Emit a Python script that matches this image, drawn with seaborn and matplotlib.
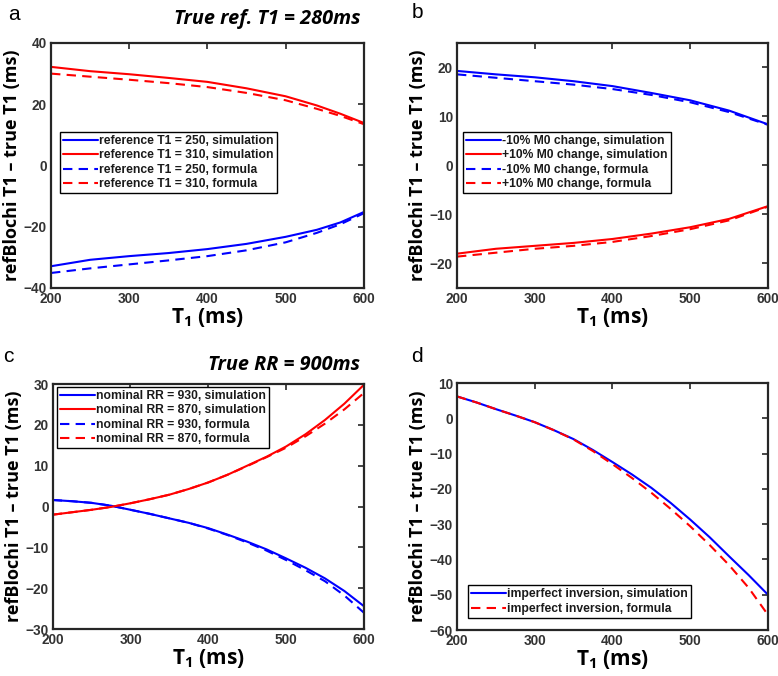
import matplotlib
matplotlib.use("Agg")
import matplotlib.pyplot as plt
import seaborn as sns
import pandas as pd

sns.set_theme(style="white")
plt.rcParams['font.family'] = ['Liberation Sans', 'DejaVu Sans']
plt.rcParams['mathtext.fontset'] = 'custom'
plt.rcParams['mathtext.rm'] = 'Open Sans:bold'
plt.rcParams['mathtext.bf'] = 'Open Sans:bold'
plt.rcParams['mathtext.it'] = 'Open Sans:bold'

# ---------------- data ----------------
t1_a = [200, 250, 300, 350, 400, 450, 500, 540, 570, 600]
a_ref250_sim = [-32.9, -30.8, -29.6, -28.6, -27.3, -25.6, -23.3, -21.0, -18.6, -15.2]
a_ref310_sim = [32.2, 30.8, 29.8, 28.6, 27.3, 25.2, 22.6, 19.6, 16.9, 13.9]
a_ref250_form = [-35.1, -33.6, -32.3, -31.0, -29.6, -27.7, -25.1, -22.0, -19.2, -15.6]
a_ref310_form = [30.0, 29.0, 28.0, 26.9, 25.6, 23.7, 21.3, 18.5, 16.2, 13.5]

t1_b = [200, 250, 300, 350, 400, 450, 500, 550, 600]
b_m10_sim = [19.3, 18.6, 18.0, 17.2, 16.2, 14.8, 13.3, 11.2, 8.4]
b_p10_sim = [-18.0, -17.0, -16.4, -15.8, -15.0, -13.9, -12.6, -10.9, -8.3]
b_m10_form = [18.6, 17.9, 17.2, 16.5, 15.6, 14.4, 12.9, 10.9, 8.3]
b_p10_form = [-18.6, -17.8, -17.0, -16.4, -15.6, -14.4, -13.0, -11.2, -8.4]

t1_c = [200, 225, 250, 275, 300, 325, 350, 375, 400, 425, 450, 475, 500,
        525, 550, 575, 600]
c_rr930_sim = [1.6, 1.3, 0.9, 0.2, -0.8, -1.8, -2.9, -4.0, -5.3, -6.9, -8.6,
               -10.5, -12.7, -15.0, -17.6, -20.7, -24.4]
c_rr870_sim = [-2.0, -1.4, -0.8, -0.1, 0.8, 1.8, 2.9, 4.3, 5.9, 7.8, 10.0,
               12.2, 14.7, 17.7, 21.2, 25.2, 29.8]
c_rr930_form = [1.6, 1.3, 0.9, 0.2, -0.8, -1.8, -2.9, -4.0, -5.4, -7.0, -8.8,
                -10.8, -13.1, -15.6, -18.3, -21.8, -26.0]
c_rr870_form = [-2.0, -1.4, -0.8, -0.1, 0.8, 1.8, 2.9, 4.3, 5.9, 7.8, 9.9,
                12.1, 14.4, 17.2, 20.3, 23.8, 27.8]

t1_d = [200, 225, 250, 275, 300, 325, 350, 375, 400, 425, 450, 475, 500,
        525, 550, 575, 600]
d_sim = [6.2, 4.5, 2.6, 0.8, -1.1, -3.4, -5.9, -9.0, -12.4, -15.9, -19.7,
         -24.0, -28.7, -33.7, -39.1, -44.4, -50.0]
d_form = [6.2, 4.5, 2.6, 0.8, -1.1, -3.4, -6.0, -9.3, -13.0, -16.9, -21.1,
          -25.7, -30.6, -35.9, -41.6, -48.0, -55.7]

x_ticks = [200, 300, 400, 500, 600]

BLUE = "#0000FF"
RED = "#FF0000"
GRAY = "#262626"

fig = plt.figure(figsize=(7.78, 6.76), dpi=100)

ax_a = fig.add_axes([0.0656, 0.574, 0.402, 0.3624])
ax_b = fig.add_axes([0.5874, 0.574, 0.3997, 0.3624])
ax_c = fig.add_axes([0.0677, 0.0695, 0.400, 0.3624])
ax_d = fig.add_axes([0.5874, 0.068, 0.3997, 0.3654])


def draw(ax, x, series):
    for label, y, color, ls in series:
        df = pd.DataFrame({"T1": x, "val": y})
        sns.lineplot(data=df, x="T1", y="val", ax=ax, color=color,
                     linewidth=1.5, label=label)
        ln = ax.lines[-1]
        ln.set_linestyle(ls)
        if ls == '--':
            ln.set_dashes((4.5, 3))


def style(ax, ylim, yticks):
    ax.set_xlim(200, 600)
    ax.set_ylim(*ylim)
    ax.set_xticks(x_ticks)
    ax.set_yticks(yticks)
    ax.tick_params(direction='in', length=4, width=1.2, top=True, right=True,
                   colors=GRAY, labelsize=9.8, pad=3)
    for lab in ax.get_xticklabels() + ax.get_yticklabels():
        lab.set_fontweight('bold')
        lab.set_color("#333333")
    for sp in ax.spines.values():
        sp.set_color(GRAY)
        sp.set_linewidth(1.6)
        sp.set_visible(True)
    ax.set_xlabel(r"T$_1$ (ms)", fontsize=15, fontweight='bold',
                  family='Open Sans', labelpad=0, color='black')
    ax.set_ylabel("refBlochi T1 \u2013 true T1 (ms)", fontsize=13,
                  fontweight='bold', family='Open Sans', labelpad=2,
                  color='black')


def legend(ax, loc, anchor):
    leg = ax.legend(loc=loc, bbox_to_anchor=anchor, frameon=True,
                    fancybox=False, edgecolor='black', framealpha=1,
                    prop={'weight': 'bold', 'size': 8.7},
                    handlelength=2.9, handletextpad=0.1, borderpad=0.25,
                    labelspacing=0.2, borderaxespad=0)
    leg.get_frame().set_linewidth(1.0)
    for t in leg.get_texts():
        t.set_color('#1a1a1a')


draw(ax_a, t1_a, [
    ("reference T1 = 250, simulation", a_ref250_sim, BLUE, '-'),
    ("reference T1 = 310, simulation", a_ref310_sim, RED, '-'),
    ("reference T1 = 250, formula", a_ref250_form, BLUE, '--'),
    ("reference T1 = 310, formula", a_ref310_form, RED, '--'),
])
style(ax_a, (-40, 40), [-40, -20, 0, 20, 40])
legend(ax_a, 'upper left', (0.029, 0.637))

draw(ax_b, t1_b, [
    ("-10% M0 change, simulation", b_m10_sim, BLUE, '-'),
    ("+10% M0 change, simulation", b_p10_sim, RED, '-'),
    ("-10% M0 change, formula", b_m10_form, BLUE, '--'),
    ("+10% M0 change, formula", b_p10_form, RED, '--'),
])
style(ax_b, (-25, 25), [-20, -10, 0, 10, 20])
legend(ax_b, 'upper left', (0.019, 0.637))

draw(ax_c, t1_c, [
    ("nominal RR = 930, simulation", c_rr930_sim, BLUE, '-'),
    ("nominal RR = 870, simulation", c_rr870_sim, RED, '-'),
    ("nominal RR = 930, formula", c_rr930_form, BLUE, '--'),
    ("nominal RR = 870, formula", c_rr870_form, RED, '--'),
])
style(ax_c, (-30, 30), [-30, -20, -10, 0, 10, 20, 30])
legend(ax_c, 'upper left', (0.014, 0.988))

draw(ax_d, t1_d, [
    ("imperfect inversion, simulation", d_sim, BLUE, '-'),
    ("imperfect inversion, formula", d_form, RED, '--'),
])
style(ax_d, (-60, 10), [-60, -50, -40, -30, -20, -10, 0, 10])
legend(ax_d, 'lower left', (0.035, 0.049))

# panel letters
fig.text(8 / 778, 1 - 14 / 676, "a", fontsize=15, va='center', ha='left', color='black')
fig.text(412 / 778, 1 - 12 / 676, "b", fontsize=15, va='center', ha='left', color='black')
fig.text(3 / 778, 1 - 356 / 676, "c", fontsize=15, va='center', ha='left', color='black')
fig.text(411 / 778, 1 - 356 / 676, "d", fontsize=15, va='center', ha='left', color='black')

# titles
fig.text(360 / 778, 1 - 19 / 676, "True ref. T1 = 280ms", fontsize=14.3,
         fontweight='bold', style='italic', family='Open Sans',
         ha='right', va='center', color='black')
fig.text(360 / 778, 1 - 365 / 676, "True RR = 900ms", fontsize=14.3,
         fontweight='bold', style='italic', family='Open Sans',
         ha='right', va='center', color='black')

fig.savefig("out.png", dpi=100)
